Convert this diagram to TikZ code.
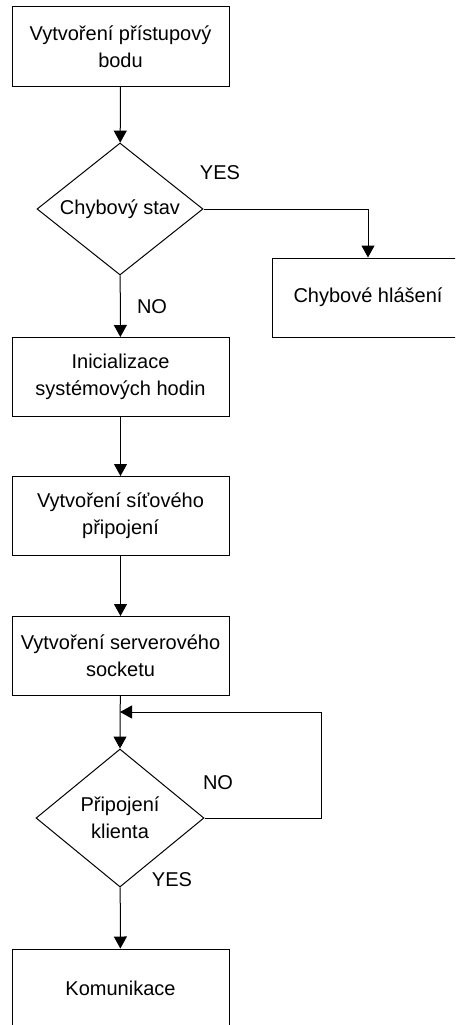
\documentclass[tikz,border=0pt]{standalone}
\usepackage{fontspec}
\setmainfont{Liberation Sans}
\usetikzlibrary{shapes.geometric,arrows.meta}

\begin{document}
\begin{tikzpicture}[x=1pt,y=-1pt,
    font=\fontsize{20}{27}\selectfont,
    line width=1pt,
    box/.style={draw, rectangle, align=center, inner sep=0pt,
      minimum width=217pt, minimum height=79pt},
    decision/.style={draw, diamond, align=center, inner sep=0pt, aspect=1.25},
    flow/.style={-{Triangle[width=13pt,length=12pt]}}]
      \path[use as bounding box, clip] (0,0) rectangle (455,1025);
      \node[box] (pristup) at (120.5,46.5) {Vytvoření přístupový\\bodu};
      \node[decision, minimum width=166pt, minimum height=132pt] (chyba) at (120,209) {Chybový stav};
      \node[box, minimum width=192pt] (hlaseni) at (368,297.5) {Chybové hlášení};
      \node[box] (hodiny) at (120.5,377) {Inicializace\\systémových hodin};
      \node[box] (sit) at (120.5,516) {Vytvoření síťového\\připojení};
      \node[box] (socket) at (120.5,656) {Vytvoření serverového\\socketu};
      \node[decision, minimum width=168pt, minimum height=138pt] (klient) at (120,818) {Připojení\\klienta};
      \node[box] (komunikace) at (120.5,988.5) {Komunikace};
      \coordinate (spoj) at (120,712);
      \coordinate (roh) at (321,712);

      \draw[flow] (pristup) -- (chyba);
      \draw[flow] (chyba.east) -| (hlaseni.north);
      \draw[flow] (chyba) -- (hodiny);
      \draw[flow] (hodiny) -- (sit);
      \draw[flow] (sit) -- (socket);
      \draw[flow] (socket.south) -- (spoj) -- (klient.north);
      \draw[flow] (klient.east) -| (roh) -- (spoj);
      \draw[flow] (klient) -- (komunikace);

      \node (ano1) at (220,173) {YES};
      \node (ne1) at (152,307) {NO};
      \node (ne2) at (218,783) {NO};
      \node (ano2) at (172,880) {YES};
\end{tikzpicture}
\end{document}
